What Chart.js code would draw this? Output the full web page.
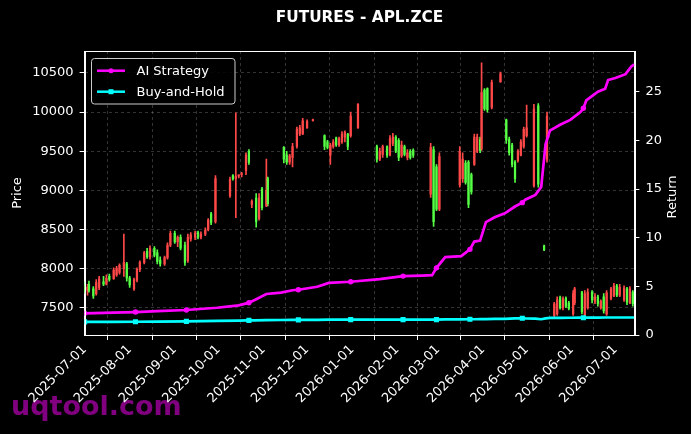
<!DOCTYPE html>
<html><head><meta charset="utf-8">
<script src="https://cdn.jsdelivr.net/npm/chart.js@4.4.0/dist/chart.umd.min.js"></script>
<style>html,body{margin:0;padding:0;background:#000;overflow:hidden}#wrap{width:691px;height:434px}</style>
</head><body><div id="wrap"><canvas id="c" width="691" height="434" style="width:691px;height:434px"></canvas></div>
<script>
// ---- data (x = days since 2025-07-01) ----
const monthTickDays = [0,31,62,92,123,153,184,215,243,274,304,335,365];
const monthTickLabels = ['2025-07-01','2025-08-01','2025-09-01','2025-10-01','2025-11-01','2025-12-01','2026-01-01','2026-02-01','2026-03-01','2026-04-01','2026-05-01','2026-06-01','2026-07-01'];
const priceTicks = [7500,8000,8500,9000,9500,10000,10500];
const returnTicks = [0,5,10,15,20,25];

const candleDays = [0,2,3,6,8,10,13,15,17,20,22,24,27,29,31,34,36,38,41,43,45,48,50,52,55,57,59,62,64,66,69,71,73,76,78,80,83,85,87,90,
 100,102,104,106,108,111,113,115,118,120,122,125,126,
 137,139,141,143,146,148,150,153,157,
 165,167,169,171,173,175,177,179,181,183,188,
 201,203,205,208,210,212,214,216,218,220,222,224,226,
 238,240,242,244,
 258,260,262,264,266,268,270,272,273,275,277,280,286,
 290,292,294,296,298,300,302,304,309,312,316,318,
 323,325,327,329,331,333,336,337,342,344,346,349,351,353,355,357,359,362,364,366,368,371,373,375,377];
const candleOpen = [7790,7720,7800,7740,7680,7760,7830,7800,7900,7870,7920,7950,8000,8060,7880,7740,7850,7990,8080,8220,8150,8260,8200,8110,8060,8140,8300,8450,8340,8400,8300,8100,8380,8400,8460,8400,8440,8500,8700,8600,
 8930,9190,9150,9180,9200,9250,9500,8820,8900,8640,9020,8800,9150,
 9550,9450,9360,9420,9560,9720,9720,9800,9890,
 9700,9620,9450,9560,9670,9580,9620,9680,9720,9700,9800,
 9560,9400,9460,9560,9450,9600,9680,9640,9440,9560,9420,9500,9510,
 8950,9520,9300,8760,
 9070,9150,9350,9360,9200,9330,9500,9650,9530,10280,10300,10060,10390,
 9900,9650,9580,9360,9380,9450,9560,9700,9060,10080,8290,9400,
 7400,7420,7630,7500,7620,7560,7420,7560,7700,7400,7500,7700,7580,7640,7500,7640,7420,7620,7650,7780,7660,7600,7740,7560,7700];
const candleHigh = [7830,7800,7840,7770,7860,7900,7900,7920,7930,8010,8030,8060,8440,8080,7900,7880,8010,8100,8220,8260,8290,8280,8240,8150,8160,8330,8480,8480,8420,8430,8340,8440,8460,8480,8480,8470,8520,8640,8720,9190,
 9170,9200,9990,9200,9230,9480,9520,8880,8960,8960,9040,9400,9170,
 9560,9500,9460,9600,9810,9830,9920,9900,9910,
 9710,9640,9600,9650,9680,9680,9750,9760,9730,10000,10110,
 9580,9540,9580,9570,9700,9730,9700,9660,9630,9580,9520,9520,9530,
 9600,9560,9330,9480,
 9560,9480,9380,9380,9220,9720,9720,9680,10630,10300,10310,10410,10510,
 9910,9680,9600,9380,9520,9650,9810,10090,10100,10110,8300,10000,
 7570,7640,7650,7640,7640,7580,7720,7760,7710,7720,7740,7720,7680,7660,7600,7680,7720,7760,7810,7800,7800,7780,7760,7770,7720];
const candleLow = [7680,7660,7700,7620,7660,7730,7780,7790,7840,7860,7900,7930,7900,7840,7760,7720,7830,7960,8060,8130,8120,8150,8060,8030,8040,8120,8280,8320,8280,8240,8040,8080,8350,8370,8380,8380,8420,8480,8560,8580,
 8910,9130,8650,9160,9170,9200,9330,8780,8530,8620,8750,8790,8800,
 9350,9330,9330,9300,9540,9700,9710,9790,9885,
 9520,9530,9330,9540,9560,9560,9600,9620,9520,9680,9790,
 9360,9380,9420,9420,9440,9570,9480,9380,9420,9440,9390,9400,9420,
 8910,8540,8740,8740,
 9040,9100,9080,8780,8950,9320,9480,9480,9510,10020,10000,10040,10380,
 9600,9450,9300,9100,9360,9440,9540,9680,9040,9040,8230,9360,
 7380,7400,7480,7470,7500,7470,7400,7540,7420,7390,7480,7560,7550,7520,7480,7430,7400,7600,7640,7640,7640,7580,7540,7550,7520];
const candleClose = [7700,7760,7720,7650,7820,7870,7800,7880,7860,7980,8000,8040,8080,7880,7790,7860,7990,8080,8200,8150,8260,8170,8090,8060,8140,8300,8450,8340,8400,8260,8080,8400,8430,8450,8400,8440,8490,8620,8590,9150,
 9140,9150,9180,9195,9215,9450,9360,8860,8600,8900,8780,9000,8830,
 9400,9360,9440,9560,9780,9800,9890,9880,9905,
 9560,9550,9580,9620,9580,9660,9720,9740,9560,9950,10100,
 9400,9500,9560,9450,9660,9680,9500,9420,9580,9460,9480,9420,9450,
 9550,8600,8760,9430,
 9500,9400,9100,8820,8980,9680,9680,9510,10250,10040,10030,10380,10490,
 9640,9480,9330,9150,9500,9620,9780,9800,10040,9080,8240,9950,
 7550,7600,7500,7610,7520,7490,7680,7740,7450,7680,7700,7600,7640,7550,7580,7460,7690,7740,7780,7660,7760,7750,7570,7740,7550];

const lineDays = [0,20,35,50,70,91,106,112,113,117,125,135,143,147,160,168,183,203,219,232,239,242,248,259,265,268,272,276,282,289,296,301,303,310,314,317,320,327,334,341,343,345,353,358,360,365,372,376,378];
const aiReturn = [2.23,2.30,2.36,2.45,2.57,2.80,3.05,3.28,3.32,3.6,4.21,4.35,4.6,4.65,4.96,5.35,5.47,5.75,6.05,6.1,6.15,6.9,8.0,8.1,8.8,9.6,9.7,11.6,12.1,12.5,13.2,13.6,13.9,14.4,15.2,19.6,21.0,21.6,22.1,22.9,23.3,24.1,25.0,25.3,26.2,26.4,26.8,27.6,27.8];
const bhReturn = [1.35,1.35,1.36,1.38,1.40,1.45,1.48,1.50,1.50,1.50,1.52,1.54,1.55,1.55,1.56,1.57,1.58,1.58,1.58,1.58,1.57,1.58,1.60,1.60,1.62,1.62,1.63,1.64,1.65,1.66,1.70,1.72,1.70,1.68,1.62,1.70,1.75,1.76,1.77,1.78,1.78,1.78,1.79,1.80,1.80,1.80,1.80,1.80,1.80];
const markerDays = [0,35,70,113,147,183,219,242,265,301,343];

// ---- styles ----
const UP = '#ff4848', DOWN = '#55ff44';
const AI_COLOR = '#ff00ff', BH_COLOR = '#00ffff';
const FONT = 'DejaVu Sans';
Chart.defaults.font.family = FONT;
Chart.defaults.color = '#ffffff';

const candleColor = ctx => candleClose[ctx.dataIndex] >= candleOpen[ctx.dataIndex] ? UP : DOWN;
const markRadius = r => ctx => markerDays.includes(lineDays[ctx.dataIndex]) ? r : 0;

const overlay = {
  id: 'overlay',
  beforeDraw(chart) {
    const {ctx} = chart;
    ctx.save();
    ctx.font = 'bold 27px ' + FONT;
    ctx.fillStyle = 'rgba(135,0,135,0.95)';
    ctx.textAlign = 'left'; ctx.textBaseline = 'alphabetic';
    ctx.fillText('uqtool.com', 11, 415);
    ctx.restore();
  },
  afterDraw(chart) {
    const {ctx, chartArea: a} = chart;
    ctx.save();
    // spines
    ctx.strokeStyle = '#ffffff'; ctx.lineWidth = 1;
    ctx.strokeRect(Math.round(a.left)+0.5, Math.round(a.top)+0.5, Math.round(a.right-a.left), Math.round(a.bottom-a.top));
    // title
    ctx.fillStyle = '#ffffff';
    ctx.font = 'bold 15.3px ' + FONT;
    ctx.textAlign = 'center'; ctx.textBaseline = 'middle';
    ctx.fillText('FUTURES - APL.ZCE', (a.left + a.right) / 2, 18);
    // right axis title (reads bottom to top)
    ctx.save();
    ctx.translate(673, 197);
    ctx.rotate(-Math.PI / 2);
    ctx.font = '13px ' + FONT;
    ctx.fillText('Return', 0, 0);
    ctx.restore();
    // legend
    const lx = 91.5, ly = 58.5, lw = 143.5, lh = 45.5;
    ctx.beginPath();
    ctx.roundRect(lx, ly, lw, lh, 3);
    ctx.fillStyle = 'rgba(0,0,0,0.85)'; ctx.fill();
    ctx.strokeStyle = '#cccccc'; ctx.lineWidth = 1; ctx.stroke();
    const items = [
      {label: 'AI Strategy', color: AI_COLOR, y: 70.7, marker: 'circle'},
      {label: 'Buy-and-Hold', color: BH_COLOR, y: 91.7, marker: 'rect'}
    ];
    ctx.font = '13px ' + FONT; ctx.textAlign = 'left'; ctx.textBaseline = 'middle';
    for (const it of items) {
      ctx.strokeStyle = it.color; ctx.lineWidth = 2.5;
      ctx.beginPath(); ctx.moveTo(97, it.y); ctx.lineTo(125, it.y); ctx.stroke();
      ctx.fillStyle = it.color;
      if (it.marker === 'circle') { ctx.beginPath(); ctx.arc(111, it.y, 2.5, 0, Math.PI*2); ctx.fill(); }
      else { ctx.fillRect(108.5, it.y - 2.5, 5, 5); }
      ctx.fillStyle = '#ffffff';
      ctx.fillText(it.label, 136.5, it.y + 0.5);
    }
    ctx.restore();
  }
};

new Chart(document.getElementById('c'), {
  type: 'bar',
  data: {
    datasets: [
      {type: 'line', label: 'AI Strategy', yAxisID: 'yR', order: 0,
       data: lineDays.map((d, i) => ({x: d, y: aiReturn[i]})),
       borderColor: AI_COLOR, borderWidth: 2.7, tension: 0,
       pointStyle: 'circle', pointRadius: markRadius(2.7), pointBackgroundColor: AI_COLOR, pointBorderWidth: 0},
      {type: 'line', label: 'Buy-and-Hold', yAxisID: 'yR', order: 1,
       data: lineDays.map((d, i) => ({x: d, y: bhReturn[i]})),
       borderColor: BH_COLOR, borderWidth: 2.7, tension: 0,
       pointStyle: 'rect', pointRadius: markRadius(3.6), pointBackgroundColor: BH_COLOR, pointBorderWidth: 0},
      {type: 'bar', label: 'body', yAxisID: 'yP', order: 2, grouped: false,
       data: candleDays.map((d, i) => ({x: d, y: [candleOpen[i], candleClose[i]]})),
       backgroundColor: candleColor, borderWidth: 0, barThickness: 1.6},
      {type: 'bar', label: 'wick', yAxisID: 'yP', order: 3, grouped: false,
       data: candleDays.map((d, i) => ({x: d, y: [candleLow[i], candleHigh[i]]})),
       backgroundColor: candleColor, borderWidth: 0, barThickness: 1}
    ]
  },
  options: {
    responsive: false, animation: false, devicePixelRatio: 1,
    layout: {padding: {top: 51, left: 0, right: 0, bottom: 0}},
    plugins: {legend: {display: false}, tooltip: {enabled: false}, title: {display: false}},
    scales: {
      x: {
        type: 'linear', min: 0, max: 378.1, offset: false,
        afterBuildTicks: s => { s.ticks = monthTickDays.map(v => ({value: v})); },
        afterFit: s => { s.height = 99; },
        ticks: {color: '#fff', font: {size: 13}, minRotation: 45, maxRotation: 45, autoSkip: false, padding: 2,
                callback: v => monthTickLabels[monthTickDays.indexOf(v)]},
        grid: {color: 'rgba(255,255,255,0.25)', lineWidth: 0.8, tickColor: '#fff', tickLength: 5, tickWidth: 1},
        border: {color: '#fff', width: 1, dash: [3, 3]}
      },
      yP: {
        position: 'left', min: 7151, max: 10781,
        afterBuildTicks: s => { s.ticks = priceTicks.map(v => ({value: v})); },
        afterFit: s => { s.width = 84.6; },
        ticks: {color: '#fff', font: {size: 13}, padding: 6, callback: v => String(v)},
        grid: {color: 'rgba(255,255,255,0.25)', lineWidth: 0.8, tickColor: '#fff', tickLength: 5, tickWidth: 1},
        border: {color: '#fff', width: 1, dash: [3, 3]},
        title: {display: true, text: 'Price', color: '#fff', font: {size: 13}, padding: {top: 10, bottom: 0}}
      },
      yR: {
        position: 'right', min: 0, max: 29.18,
        afterBuildTicks: s => { s.ticks = returnTicks.map(v => ({value: v})); },
        afterFit: s => { s.width = 56.6; },
        ticks: {color: '#fff', font: {size: 13}, padding: 6, callback: v => String(v)},
        grid: {drawOnChartArea: false, tickColor: '#fff', tickLength: 5, tickWidth: 1},
        border: {color: '#fff', width: 1}
      }
    }
  },
  plugins: [overlay]
});
</script></body></html>
